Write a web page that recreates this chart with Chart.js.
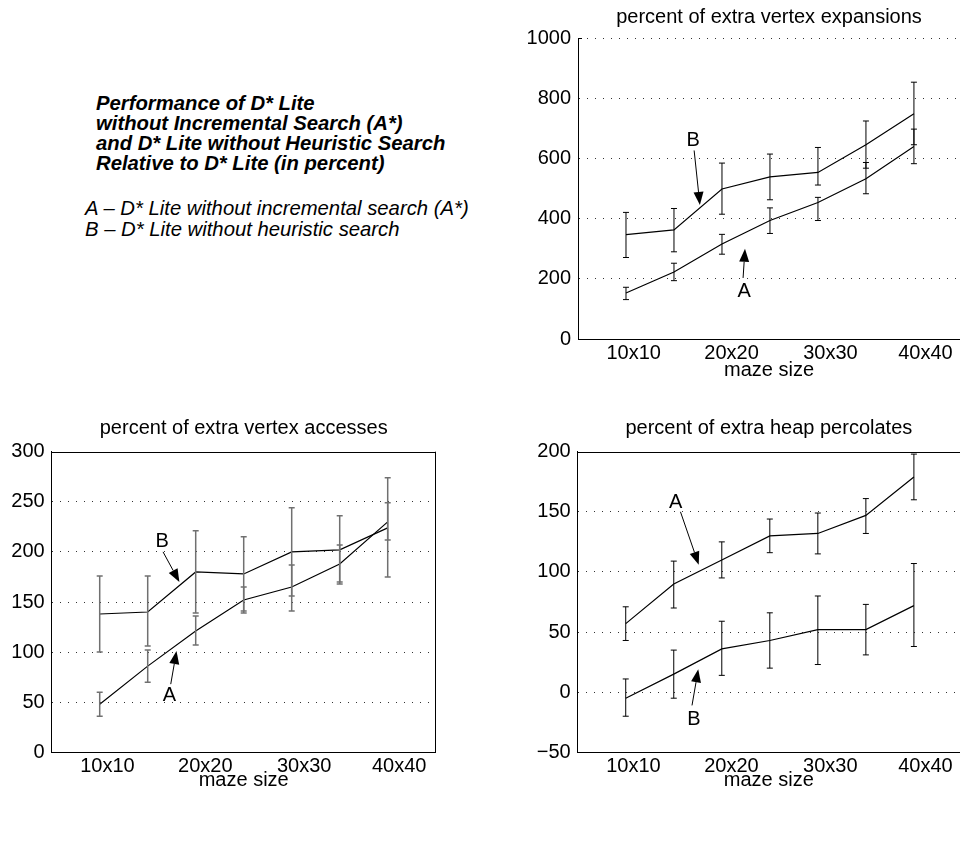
<!DOCTYPE html>
<html><head><meta charset="utf-8">
<script src="https://cdn.jsdelivr.net/npm/chart.js@4"></script>
<style>
body{margin:0;background:#fff;}
#wrap{position:relative;width:960px;height:850px;overflow:hidden;font-family:"Liberation Sans",Arial,sans-serif;background:#fff;}
canvas{position:absolute;}
.t{position:absolute;white-space:nowrap;color:#000;font-style:italic;}
</style></head><body>
<div id="wrap">
<div class="t" style="left:96px;top:93px;font-weight:bold;font-size:20.3px;line-height:20px;">Performance of D* Lite<br>without Incremental Search (A*)<br>and D* Lite without Heuristic Search<br>Relative to D* Lite (in percent)</div>
<div class="t" style="left:85px;top:198px;font-size:20.3px;line-height:21px;">A – D* Lite without incremental search (A*)<br>B – D* Lite without heuristic search</div>
<canvas id="c1" width="460" height="400" style="left:500px;top:0"></canvas>
<canvas id="c2" width="480" height="420" style="left:0;top:400px"></canvas>
<canvas id="c3" width="460" height="420" style="left:500px;top:400px"></canvas>
</div>
<script>
// ---- data ----
const mazeX = [10, 15, 20, 25, 30, 35, 40];
const tickLabels = ['10x10', '20x20', '30x30', '40x40'];
const tickPos = [10.8, 21.0, 31.3, 41.2];

// percent of extra vertex expansions
const expA = [153, 223, 316, 394, 454, 533, 640];
const expALo = [131, 194, 282, 351, 394, 483, 583];
const expAHi = [172, 252, 348, 436, 471, 587, 698];
const expB = [347, 363, 499, 539, 554, 646, 749];
const expBLo = [271, 290, 415, 463, 512, 568, 646];
const expBHi = [421, 434, 585, 615, 637, 725, 854];

// percent of extra vertex accesses
const accA = [48, 86, 121, 152, 165, 188, 230];
const accALo = [36, 70, 107, 139, 141, 170, 212];
const accAHi = [60, 102, 136, 165, 187, 207, 249];
const accB = [138, 140, 180, 178, 200, 202, 224];
const accBLo = [100, 106, 139, 141, 156, 168, 175];
const accBHi = [176, 176, 221, 215, 244, 236, 274];

// percent of extra heap percolates
const perA = [57, 90, 110, 130, 132, 147, 179];
const perALo = [43, 70, 95, 116, 115, 132, 160];
const perAHi = [71, 109, 125, 144, 149, 161, 198];
const perB = [-5, 15, 36, 43, 52, 52, 72];
const perBLo = [-20, -5, 14, 20, 23, 31, 38];
const perBHi = [11, 35, 59, 66, 80, 73, 107];

// annotation labels with arrows (data coordinates)
const expNotes = [
  {text: 'B', tx: 17.0, ty: 660, x1: 17.1, y1: 627, x2: 17.7, y2: 446},
  {text: 'A', tx: 22.3, ty: 158, x1: 22.2, y1: 203, x2: 22.4, y2: 300}
];
const accNotes = [
  {text: 'B', tx: 16.5, ty: 210, x1: 16.6, y1: 200, x2: 18.3, y2: 170},
  {text: 'A', tx: 17.25, ty: 57, x1: 17.4, y1: 68, x2: 18.0, y2: 101}
];
const perNotes = [
  {text: 'A', tx: 15.2, ty: 158, x1: 15.7, y1: 150, x2: 17.6, y2: 106},
  {text: 'B', tx: 17.1, ty: -23, x1: 16.9, y1: -11, x2: 17.55, y2: 19}
];

// ---- rendering ----
const FONT = '"Liberation Sans", Arial, Helvetica, sans-serif';
Chart.defaults.font.family = FONT;
Chart.defaults.font.size = 20;
Chart.defaults.color = '#000';

const errPlugin = {
  id: 'err',
  afterDatasetsDraw(chart) {
    const {ctx, scales: {x, y}} = chart;
    chart.data.datasets.forEach(ds => {
      ctx.save();
      ctx.strokeStyle = ds.errColor;
      ctx.lineWidth = ds.errWidth;
      ds.data.forEach((pt, i) => {
        const px = x.getPixelForValue(pt.x);
        const y1 = y.getPixelForValue(ds.errLo[i]);
        const y2 = y.getPixelForValue(ds.errHi[i]);
        ctx.beginPath();
        ctx.moveTo(px, y1); ctx.lineTo(px, y2);
        ctx.moveTo(px - 3, y1); ctx.lineTo(px + 3, y1);
        ctx.moveTo(px - 3, y2); ctx.lineTo(px + 3, y2);
        ctx.stroke();
      });
      ctx.restore();
    });
  }
};

const notePlugin = {
  id: 'notes',
  afterDraw(chart, args, opts) {
    const {ctx, scales: {x, y}} = chart;
    ctx.save();
    ctx.fillStyle = '#000';
    ctx.strokeStyle = '#000';
    ctx.lineWidth = 1;
    ctx.font = '20px ' + FONT;
    ctx.textAlign = 'center';
    ctx.textBaseline = 'middle';
    (opts.items || []).forEach(n => {
      ctx.fillText(n.text, x.getPixelForValue(n.tx), y.getPixelForValue(n.ty));
      const ax = x.getPixelForValue(n.x1), ay = y.getPixelForValue(n.y1);
      const bx = x.getPixelForValue(n.x2), by = y.getPixelForValue(n.y2);
      const ang = Math.atan2(by - ay, bx - ax);
      const L = 13, W = 5;
      const hx = bx - L * Math.cos(ang), hy = by - L * Math.sin(ang);
      ctx.beginPath();
      ctx.moveTo(ax, ay); ctx.lineTo(hx, hy);
      ctx.stroke();
      ctx.beginPath();
      ctx.moveTo(bx, by);
      ctx.lineTo(hx + W * Math.sin(ang), hy - W * Math.cos(ang));
      ctx.lineTo(hx - W * Math.sin(ang), hy + W * Math.cos(ang));
      ctx.closePath();
      ctx.fill();
    });
    ctx.restore();
  }
};

const framePlugin = {
  id: 'frame',
  afterDraw(chart, args, opts) {
    const {ctx, chartArea: a} = chart;
    ctx.save();
    ctx.fillStyle = '#000';
    ctx.strokeStyle = '#000';
    ctx.lineWidth = 1;
    ctx.beginPath();
    if (opts.top) { ctx.moveTo(a.left, Math.round(a.top) + 0.5); ctx.lineTo(a.right, Math.round(a.top) + 0.5); }
    if (opts.right) { ctx.moveTo(Math.round(a.right) - 0.5, a.top); ctx.lineTo(Math.round(a.right) - 0.5, a.bottom); }
    if (opts.stub) { ctx.moveTo(a.left, Math.round(a.top) + 0.5); ctx.lineTo(a.left + opts.stub, Math.round(a.top) + 0.5); }
    ctx.stroke();
    if (opts.title) {
      ctx.font = '20px ' + FONT;
      ctx.textAlign = 'center';
      ctx.textBaseline = 'middle';
      ctx.fillText(opts.title, (a.left + a.right) / 2, opts.titleY);
    }
    ctx.restore();
  }
};

function fmt(v) { return v < 0 ? '\u2212' + Math.abs(v) : String(v); }

function makeChart(id, p) {
  const line = (vals, lo, hi) => ({
    data: mazeX.map((x, i) => ({x: x, y: vals[i]})),
    errLo: lo, errHi: hi, errColor: p.errColor, errWidth: p.errWidth,
    borderColor: '#000', borderWidth: 1.2, pointRadius: 0, tension: 0, fill: false
  });
  return new Chart(document.getElementById(id), {
    type: 'line',
    data: {datasets: [line(p.a, p.aLo, p.aHi), line(p.b, p.bLo, p.bHi)]},
    options: {
      responsive: false, animation: false, devicePixelRatio: 1,
      layout: {padding: {top: p.padTop, right: p.padRight, left: 0, bottom: 0}},
      plugins: {
        legend: {display: false}, tooltip: {enabled: false}, title: {display: false},
        notes: {items: p.notes},
        frame: {top: p.frameTop, right: p.frameRight, stub: p.stub, title: p.title, titleY: p.titleY}
      },
      scales: {
        x: {
          type: 'linear', min: 5, max: p.xMax,
          afterBuildTicks: s => { s.ticks = tickPos.map(v => ({value: v})); },
          afterFit: s => { s.height = p.xH; },
          ticks: {callback: (v, i) => tickLabels[i], padding: 2, maxRotation: 0, autoSkip: false, color: '#000'},
          grid: {display: false, drawTicks: false},
          border: {display: true, color: '#000', width: 1},
          title: {display: true, text: 'maze size', color: '#000', padding: {top: 0, bottom: p.titlePad}}
        },
        y: {
          type: 'linear', min: p.yMin, max: p.yMax,
          afterFit: s => { s.width = p.yW; },
          ticks: {stepSize: p.yStep, padding: 7, color: '#000', callback: v => fmt(v)},
          grid: {drawTicks: false, lineWidth: 1, color: c => (p.gridVals.includes(c.tick && c.tick.value) ? '#333' : 'rgba(0,0,0,0)')},
          border: {display: true, color: '#000', width: 1, dash: [1, 7]}
        }
      }
    },
    plugins: [errPlugin, notePlugin, framePlugin]
  });
}

makeChart('c1', {
  a: expA, aLo: expALo, aHi: expAHi, b: expB, bLo: expBLo, bHi: expBHi, notes: expNotes,
  yMin: 0, yMax: 1000, yStep: 200, gridVals: [200, 400, 600, 800, 1000],
  padTop: 38.3, padRight: 0, yW: 78, xH: 61, xMax: 44.8, titlePad: 18,
  frameTop: false, frameRight: false, stub: 4,
  title: 'percent of extra vertex expansions', titleY: 17,
  errColor: '#000', errWidth: 1
});
makeChart('c2', {
  a: accA, aLo: accALo, aHi: accAHi, b: accB, bLo: accBLo, bHi: accBHi, notes: accNotes,
  yMin: 0, yMax: 300, yStep: 50, gridVals: [50, 100, 150, 200, 250],
  padTop: 51.7, padRight: 44.3, yW: 51.7, xH: 67.7, xMax: 45, titlePad: 27.5,
  frameTop: true, frameRight: true, stub: 0,
  title: 'percent of extra vertex accesses', titleY: 28,
  errColor: '#707070', errWidth: 1.5
});
makeChart('c3', {
  a: perA, aLo: perALo, aHi: perAHi, b: perB, bLo: perBLo, bHi: perBHi, notes: perNotes,
  yMin: -50, yMax: 200, yStep: 50, gridVals: [0, 50, 100, 150],
  padTop: 51.7, padRight: 0, yW: 77.7, xH: 67.7, xMax: 44.8, titlePad: 27.5,
  frameTop: true, frameRight: false, stub: 0,
  title: 'percent of extra heap percolates', titleY: 28,
  errColor: '#000', errWidth: 1
});
</script>
</body></html>
